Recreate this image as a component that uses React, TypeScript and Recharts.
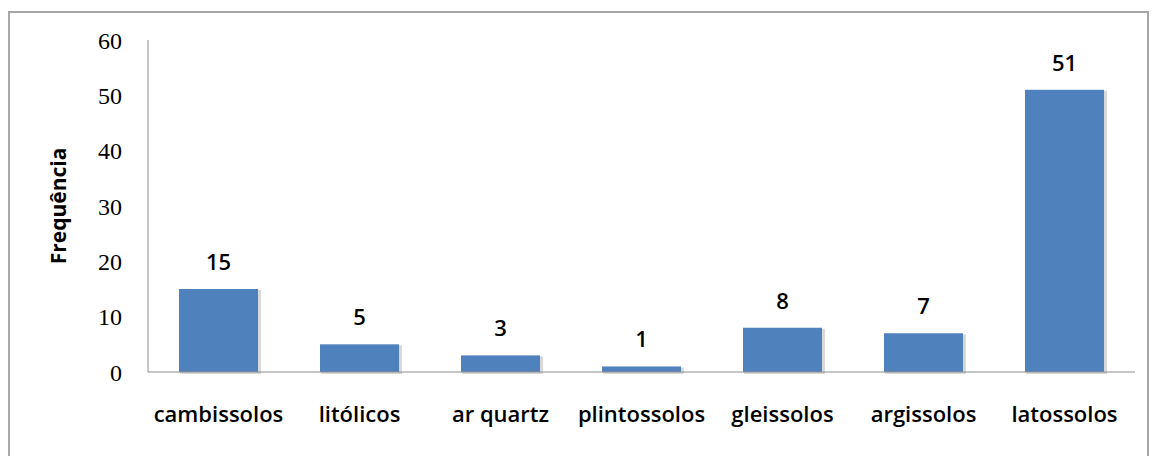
import { Bar, BarChart, LabelList, XAxis, YAxis } from "recharts";

const categories = ["cambissolos", "litólicos", "ar quartz", "plintossolos", "gleissolos", "argissolos", "latossolos"];
const frequencies = [15, 5, 3, 1, 8, 7, 51];
const yTicks = [0, 10, 20, 30, 40, 50, 60];
const yTitle = "Frequência";

const data = categories.map((name, i) => ({ name, value: frequencies[i] }));

function ShadowBar(props: any) {
    const { x, y, width, height } = props;
    if (!height || height <= 0) return null;
    return (
        <g>
            <rect x={x + 1} y={y + 1} width={width + 2} height={height + 1} fill="#d9d9d9" />
            <rect x={x} y={y} width={width} height={height} fill="#4F81BD" />
        </g>
    );
}

function YTitle(props: any) {
    const { viewBox } = props;
    const cx = Math.max(viewBox.x, 0) + 8;
    const cy = viewBox.y + viewBox.height / 2;
    return (
        <text x={cx} y={cy} transform={`rotate(-90 ${cx} ${cy})`} textAnchor="middle" dominantBaseline="central"
            fontFamily="Open Sans" fontWeight={700} fontSize={21} fill="#000">
            {yTitle}
        </text>
    );
}

export default function App() {
    return (
        <div style={{ marginTop: 3, width: 1141, height: 460, border: "2px solid #a6a6a6", boxSizing: "border-box" }}>
            <BarChart width={1137} height={456} data={data} margin={{ top: 27, right: 12, bottom: 47, left: 40 }} barCategoryGap="22%">
                <YAxis domain={[0, 60]} ticks={yTicks} interval={0} width={98} axisLine={{ stroke: "#8c8c8c" }} tickLine={false}
                    tickSize={0} tickMargin={26} tick={{ fill: "#000", fontSize: 24, fontFamily: "Liberation Serif" }}
                    label={<YTitle />} />
                <XAxis dataKey="name" interval={0} axisLine={{ stroke: "#8c8c8c" }} tickLine={false} tickSize={0} tickMargin={34}
                    tick={{ fill: "#000", fontSize: 22, fontFamily: "Open Sans", fontWeight: 600 }} height={50} />
                <Bar dataKey="value" isAnimationActive={false} shape={<ShadowBar />}>
                    <LabelList dataKey="value" position="top" offset={19}
                        style={{ fill: "#000", fontSize: 22, fontFamily: "Open Sans", fontWeight: 600 }} />
                </Bar>
            </BarChart>
        </div>
    );
}
